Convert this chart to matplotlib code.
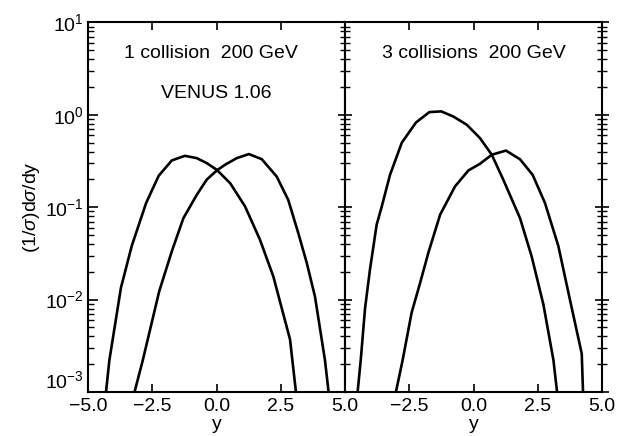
import matplotlib
matplotlib.use("Agg")
import matplotlib.pyplot as plt
from matplotlib.ticker import LogLocator, FixedLocator, NullFormatter

plt.rcParams['font.family'] = ['Liberation Sans', 'DejaVu Sans']
plt.rcParams['mathtext.fontset'] = 'custom'
plt.rcParams['mathtext.rm'] = 'Liberation Sans'
plt.rcParams['mathtext.it'] = 'Liberation Sans:italic'

# 1 collision, 200 GeV (VENUS 1.06)
y1_left = [-4.30, -4.17, -3.72, -3.30, -2.74, -2.25, -1.74, -1.23, -0.77, -0.38,
           0.01, 0.53, 1.11, 1.69, 2.21, 2.86, 3.09]
dsdy1_left = [1.0e-3, 2.2e-3, 0.0134, 0.038, 0.111, 0.219, 0.321, 0.36, 0.34, 0.30,
              0.254, 0.182, 0.102, 0.0445, 0.0178, 0.0037, 1.0e-3]

y1_right = [-3.19, -2.87, -2.23, -1.74, -1.29, -0.77, -0.38, 0.01, 0.33, 0.79,
            1.26, 1.76, 2.34, 2.79, 3.18, 3.51, 3.83, 4.22, 4.36]
dsdy1_right = [1.0e-3, 2.2e-3, 0.0123, 0.0333, 0.076, 0.136, 0.199, 0.25, 0.288, 0.34,
               0.376, 0.331, 0.215, 0.12, 0.0526, 0.025, 0.0108, 2.2e-3, 1.0e-3]

# 3 collisions, 200 GeV
y3_left = [-4.51, -4.39, -4.22, -4.03, -3.77, -3.57, -3.25, -2.79, -2.24, -1.72,
           -1.26, -0.79, -0.26, 0.25, 0.71, 1.16, 1.81, 2.26, 2.72, 3.11, 3.25]
dsdy3_left = [1.0e-3, 2.2e-3, 0.0081, 0.0211, 0.0646, 0.102, 0.224, 0.50, 0.826, 1.07,
              1.09, 0.96, 0.78, 0.56, 0.37, 0.198, 0.076, 0.0294, 0.0088, 2.2e-3, 1.0e-3]

y3_right = [-3.02, -2.76, -2.41, -2.08, -1.76, -1.30, -0.72, -0.20, 0.25, 0.71,
            1.26, 1.81, 2.30, 2.78, 3.30, 3.75, 4.21, 4.26]
dsdy3_right = [1.0e-3, 2.2e-3, 0.0072, 0.0151, 0.032, 0.083, 0.168, 0.25, 0.295, 0.37,
               0.41, 0.33, 0.224, 0.111, 0.038, 0.01, 2.6e-3, 1.0e-3]

xticks_left = [-5.0, -2.5, 0.0, 2.5, 5.0]
xticks_right = [-2.5, 0.0, 2.5, 5.0]
yticks = [1e-3, 1e-2, 1e-1, 1e0, 1e1]
ytick_labels = [r'$\mathregular{10^{-3}}$', r'$\mathregular{10^{-2}}$',
                r'$\mathregular{10^{-1}}$', r'$\mathregular{10^{0}}$',
                r'$\mathregular{10^{1}}$']

FS = 14

fig = plt.figure(figsize=(6.31, 4.36), dpi=100)
left, bottom, height = 0.1395, 0.101, 0.8475
panel_w = 0.4073
ax1 = fig.add_axes([left, bottom, panel_w, height])
ax2 = fig.add_axes([left + panel_w, bottom, panel_w, height], sharey=ax1)

lw = 1.9
ax1.plot(y1_left, dsdy1_left, color='black', lw=lw)
ax1.plot(y1_right, dsdy1_right, color='black', lw=lw)
ax2.plot(y3_left, dsdy3_left, color='black', lw=lw)
ax2.plot(y3_right, dsdy3_right, color='black', lw=lw)

def fmt_x(v):
    return f"{v:.1f}".replace('-', '\u2212')

for ax, xt in ((ax1, xticks_left), (ax2, xticks_right)):
    ax.set_yscale('log')
    ax.set_ylim(1e-3, 1e1)
    ax.set_xlim(-5, 5)
    ax.set_xticks(xt)
    ax.set_xticklabels([fmt_x(v) for v in xt], fontsize=FS)
    ax.set_xlabel('y', fontsize=FS, labelpad=1)
    ax.yaxis.set_major_locator(FixedLocator(yticks))
    ax.yaxis.set_minor_locator(LogLocator(base=10, subs=range(2, 10), numticks=20))
    ax.yaxis.set_minor_formatter(NullFormatter())
    ax.tick_params(axis='x', which='major', direction='in', length=6, width=1.2,
                   top=True, pad=4)
    ax.tick_params(axis='x', which='minor', bottom=False, top=False)
    for sp in ax.spines.values():
        sp.set_linewidth(1.5)

# left spine: inward ticks with labels
ax1.tick_params(axis='y', which='major', direction='in', length=7, width=1.2,
                left=True, right=False, pad=3)
ax1.tick_params(axis='y', which='minor', direction='in', length=4, width=1.0,
                left=True, right=False)
ax1.set_yticklabels(ytick_labels, fontsize=FS)
# lowest decade label sits just above the x axis line
ax1.get_yticklabels()[0].set_verticalalignment('bottom')

# middle spine: crossing ticks; right spine: inward ticks
ax2.tick_params(axis='y', which='major', left=True, right=True, direction='inout',
                length=10, width=1.2, labelleft=False)
ax2.tick_params(axis='y', which='minor', left=True, right=True, direction='inout',
                length=7, width=1.0)

ax1.set_ylabel(r'(1/$\sigma$)d$\sigma$/dy', fontsize=FS, labelpad=2)

ax1.text(-0.2, 4.6, '1 collision  200 GeV', ha='center', va='center', fontsize=FS)
ax1.text(0.0, 1.72, 'VENUS 1.06', ha='center', va='center', fontsize=FS)
ax2.text(0.0, 4.6, '3 collisions  200 GeV', ha='center', va='center', fontsize=FS)

fig.savefig('out.png', dpi=100)
